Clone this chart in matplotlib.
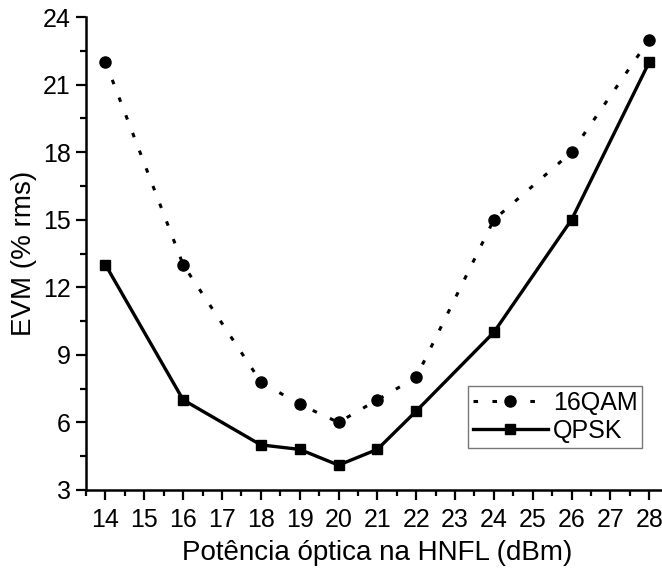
import numpy as np
import matplotlib.pyplot as plt
from matplotlib.ticker import MultipleLocator

plt.rcParams['font.family'] = ['Liberation Sans', 'DejaVu Sans']

# potencia optica (dBm)
potencia = [14, 16, 18, 19, 20, 21, 22, 24, 26, 28]
evm_16qam = [22, 13, 7.8, 6.8, 6.0, 7.0, 8.0, 15, 18, 23]
evm_qpsk = [13, 7, 5, 4.8, 4.1, 4.8, 6.5, 10, 15, 22]

fig = plt.figure(figsize=(6.62, 5.71), dpi=100)
ax = fig.add_axes([0.13, 0.142, 0.88, 0.828])

ax.plot(potencia, evm_16qam, color='black', lw=2.2, linestyle=(0, (1.5, 4.7)),
        marker='o', markersize=8, label='16QAM', clip_on=False)
ax.plot(potencia, evm_qpsk, color='black', lw=2.4, linestyle='-',
        marker='s', markersize=7, label='QPSK', clip_on=False)

ax.set_xlim(13.5, 28.5)
ax.set_ylim(3, 24)
ax.xaxis.set_major_locator(MultipleLocator(1))
ax.xaxis.set_minor_locator(MultipleLocator(0.5))
ax.yaxis.set_major_locator(MultipleLocator(3))
ax.yaxis.set_minor_locator(MultipleLocator(1.5))

for s in ['top', 'right']:
    ax.spines[s].set_visible(False)
for s in ['left', 'bottom']:
    ax.spines[s].set_linewidth(1.8)

ax.tick_params(which='major', direction='out', length=7, width=1.6, labelsize=18)
ax.tick_params(which='minor', direction='out', length=4, width=1.6)
ax.tick_params(axis='x', pad=6)
ax.tick_params(axis='y', pad=4)

ax.set_xlabel('Potência óptica na HNFL (dBm)', fontsize=20, labelpad=6)
ax.set_ylabel('EVM (% rms)', fontsize=20, labelpad=4)

leg = ax.legend(loc='lower right', bbox_to_anchor=(0.955, 0.089), fontsize=18,
                frameon=True, fancybox=False, edgecolor='#555555',
                handlelength=3, handletextpad=0.2, borderpad=0.2,
                labelspacing=0.15, borderaxespad=0)
leg.get_frame().set_linewidth(1)

fig.savefig('out.png', dpi=100)
